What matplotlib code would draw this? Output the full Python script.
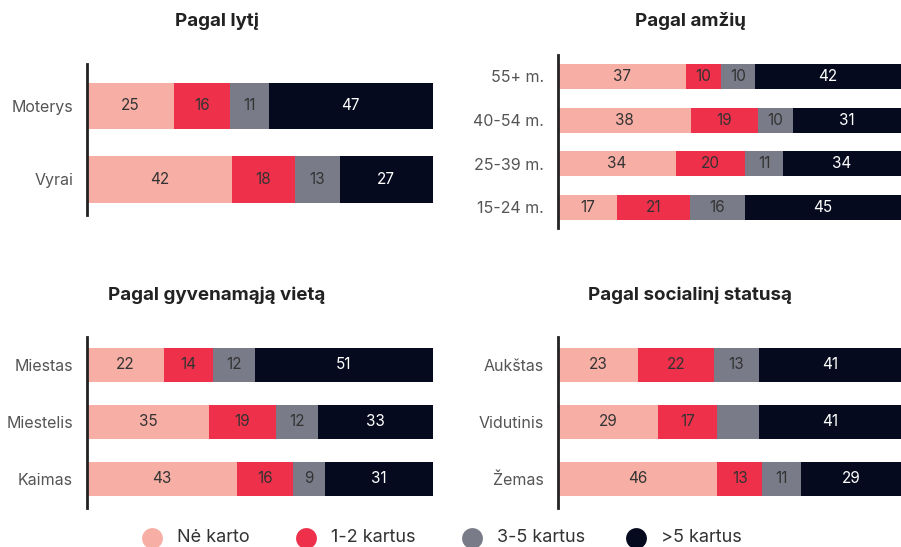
import matplotlib
matplotlib.use('Agg')
from matplotlib import pyplot as plt

plt.rcParams['font.family'] = ['Inter', 'DejaVu Sans']

series_names = ['Nė karto', '1-2 kartus', '3-5 kartus', '>5 kartus']
colors = ['#F7AFA5', '#EE304A', '#7A7B88', '#050A1E']
text_colors = ['#333333', '#333333', '#333333', '#FFFFFF']

gender_labels = ['Moterys', 'Vyrai']
gender_values = [[25, 16, 11, 47],
                 [42, 18, 13, 27]]

age_labels = ['55+ m.', '40-54 m.', '25-39 m.', '15-24 m.']
age_values = [[37, 10, 10, 42],
              [38, 19, 10, 31],
              [34, 20, 11, 34],
              [17, 21, 16, 45]]

place_labels = ['Miestas', 'Miestelis', 'Kaimas']
place_values = [[22, 14, 12, 51],
                [35, 19, 12, 33],
                [43, 16, 9, 31]]

status_labels = ['Aukštas', 'Vidutinis', 'Žemas']
status_values = [[23, 22, 13, 41],
                 [29, 17, 12, 41],
                 [46, 13, 11, 29]]
# value labels that are left off the chart (row, segment)
hidden_labels = {(1, 2)}

W, H = 901, 547
fig = plt.figure(figsize=(W / 100, H / 100), dpi=100)


def px_axes(x0, x1, y0, y1):
    return fig.add_axes([x0 / W, 1 - y1 / H, (x1 - x0) / W, (y1 - y0) / H])


def draw_panel(ax, labels, values, bar_h, top_m, bot_m, hidden=()):
    n = len(labels)
    for i, row in enumerate(values):
        total = sum(row)
        left = 0
        for j, v in enumerate(row):
            w = v / total
            ax.barh(i, w, left=left, height=bar_h, color=colors[j], linewidth=0)
            if (i, j) not in hidden:
                ax.text(left + w / 2, i, str(v), ha='center', va='center',
                        fontsize=11, color=text_colors[j])
            left += w
    ax.set_xlim(0, 1)
    ax.set_ylim(n - 1 + bot_m, -top_m)
    ax.set_yticks(range(n))
    ax.set_yticklabels(labels, fontsize=11.5, color='#555555')
    ax.tick_params(axis='y', length=0, pad=10)
    ax.set_xticks([])
    for s in ['top', 'right', 'bottom']:
        ax.spines[s].set_visible(False)
    ax.spines['left'].set_linewidth(2)
    ax.spines['left'].set_color('#222222')


ax1 = px_axes(87, 433, 64, 215)
draw_panel(ax1, gender_labels, gender_values, 0.626, 0.571, 0.483)
ax2 = px_axes(558, 901, 55, 228)
draw_panel(ax2, age_labels, age_values, 0.572, 0.49, 0.47)
ax3 = px_axes(87, 433, 337, 508)
draw_panel(ax3, place_labels, place_values, 0.596, 0.49, 0.51)
ax4 = px_axes(558, 901, 337, 508)
draw_panel(ax4, status_labels, status_values, 0.596, 0.49, 0.51, hidden_labels)

titles = [('Pagal lytį', 217, 21), ('Pagal amžių', 690, 21),
          ('Pagal gyvenamąją vietą', 217, 295), ('Pagal socialinį statusą', 690, 295)]
for t, x, y in titles:
    fig.text(x / W, 1 - y / H, t, ha='center', va='center', fontsize=13.5,
             fontweight='bold', color='#222222')

# legend: circle marker plus label, placed along the bottom
legend_x = [152, 306, 472, 636]
legend_y = 538
for name, c, x in zip(series_names, colors, legend_x):
    fig.lines.append(plt.Line2D([x / W], [1 - legend_y / H], marker='o', markersize=15,
                                markerfacecolor=c, markeredgewidth=0, linestyle='',
                                transform=fig.transFigure))
    fig.text((x + 25) / W, 1 - legend_y / H, name, ha='left', va='center',
             fontsize=13, color='#333333')

fig.savefig('out.png', dpi=100)
